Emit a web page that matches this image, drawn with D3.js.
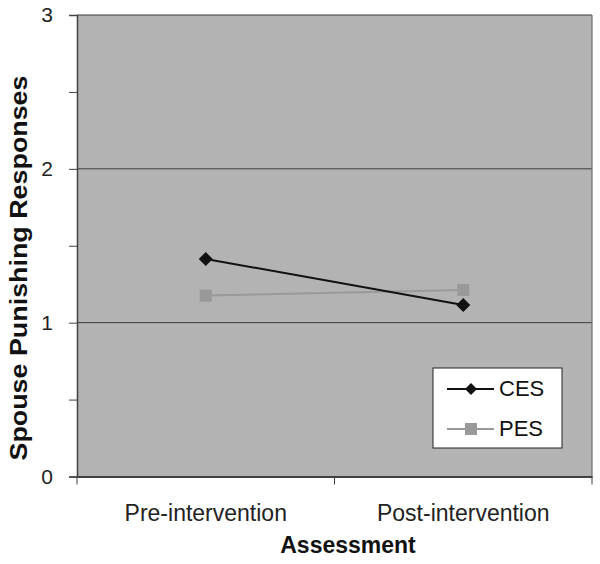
<!DOCTYPE html>
<html><head><meta charset="utf-8">
<script src="https://cdn.jsdelivr.net/npm/d3@7"></script>
<style>body{margin:0;background:#fff}svg{display:block}text{font-family:Arial,"Liberation Sans",sans-serif}</style>
</head><body>
<svg id="c" width="600" height="564"></svg>
<script>
const categories = ["Pre-intervention", "Post-intervention"];
const cesValues = [1.414, 1.115];
const pesValues = [1.176, 1.213];
const seriesNames = ["CES", "PES"];
const yTicks = [0, 1, 2, 3];

const svg = d3.select("#c");
const m = {l: 77, r: 592, t: 15, b: 476.5};
const x = d3.scaleBand().domain(categories).range([m.l, m.r]);
const y = d3.scaleLinear().domain([0, 3]).range([m.b, m.t]);

svg.append("rect").attr("x", m.l).attr("y", m.t).attr("width", m.r - m.l).attr("height", m.b - m.t)
  .attr("fill", "#b3b3b3");
svg.selectAll(".g").data(yTicks.filter(d => d > 0)).enter().append("line")
  .attr("x1", m.l).attr("x2", m.r).attr("y1", d => y(d)).attr("y2", d => y(d))
  .attr("stroke", "#3a3a3a").attr("stroke-width", 1);
svg.append("line").attr("x1", m.r).attr("x2", m.r).attr("y1", m.t).attr("y2", m.b)
  .attr("stroke", "#707070").attr("stroke-width", 1.2);

const yAx = svg.append("g").attr("transform", `translate(${m.l},0)`)
  .call(d3.axisLeft(y).tickValues(d3.range(0, 3.01, 0.5)).tickSize(8)
    .tickFormat(d => Number.isInteger(d) ? d : ""));
yAx.select(".domain").attr("stroke", "#404040").attr("stroke-width", 1.5);
yAx.selectAll(".tick line").attr("stroke", "#404040");
yAx.selectAll("text").attr("font-size", 21).attr("fill", "#222").attr("x", -24);

const xAx = svg.append("g").attr("transform", `translate(0,${m.b})`)
  .call(d3.axisBottom(x).tickSize(0).tickSizeOuter(0));
xAx.select(".domain").attr("stroke", "#404040").attr("stroke-width", 2);
xAx.selectAll("text").attr("font-size", 23).attr("fill", "#222").attr("dy", 0).attr("y", 44);
const bounds = [m.l, m.l + x.bandwidth(), m.r];
svg.selectAll(".xt").data(bounds).enter().append("line")
  .attr("x1", d => d).attr("x2", d => d).attr("y1", m.b).attr("y2", m.b + 8)
  .attr("stroke", "#404040");

const line = d3.line().x((d, i) => x(categories[i]) + x.bandwidth() / 2).y(d => y(d));
svg.append("path").attr("d", line(pesValues)).attr("fill", "none").attr("stroke", "#999").attr("stroke-width", 2);
svg.selectAll(".pm").data(pesValues).enter().append("rect")
  .attr("x", (d, i) => x(categories[i]) + x.bandwidth() / 2 - 6).attr("y", d => y(d) - 6)
  .attr("width", 12).attr("height", 12).attr("fill", "#999");
svg.append("path").attr("d", line(cesValues)).attr("fill", "none").attr("stroke", "#111").attr("stroke-width", 2);
svg.selectAll(".cm").data(cesValues).enter().append("path")
  .attr("transform", (d, i) => `translate(${x(categories[i]) + x.bandwidth() / 2},${y(d)})`)
  .attr("d", "M0,-7L7,0L0,7L-7,0Z").attr("fill", "#111");

const lg = svg.append("g").attr("transform", "translate(433,368)");
lg.append("rect").attr("width", 129).attr("height", 80).attr("fill", "#fff").attr("stroke", "#222").attr("stroke-width", 1);
const colors = ["#111", "#999"];
seriesNames.forEach((s, i) => {
  const yy = 21 + i * 40;
  lg.append("line").attr("x1", 14).attr("x2", 61).attr("y1", yy).attr("y2", yy).attr("stroke", colors[i]).attr("stroke-width", 2);
  if (i === 0) lg.append("path").attr("transform", `translate(38,${yy})`).attr("d", "M0,-6L6,0L0,6L-6,0Z").attr("fill", colors[i]);
  else lg.append("rect").attr("x", 32).attr("y", yy - 6).attr("width", 12).attr("height", 12).attr("fill", colors[i]);
  lg.append("text").attr("x", 66).attr("y", yy + 7).attr("font-size", 22).attr("fill", "#111").text(s);
});

svg.append("text").attr("transform", "translate(27,268) rotate(-90)").attr("text-anchor", "middle")
  .attr("font-size", 23).attr("font-weight", "bold").attr("fill", "#111")
  .attr("textLength", 385).attr("lengthAdjust", "spacingAndGlyphs").text("Spouse Punishing Responses");
svg.append("text").attr("x", 348).attr("y", 553).attr("text-anchor", "middle")
  .attr("font-size", 23).attr("font-weight", "bold").attr("fill", "#111").text("Assessment");
</script>
</body></html>
